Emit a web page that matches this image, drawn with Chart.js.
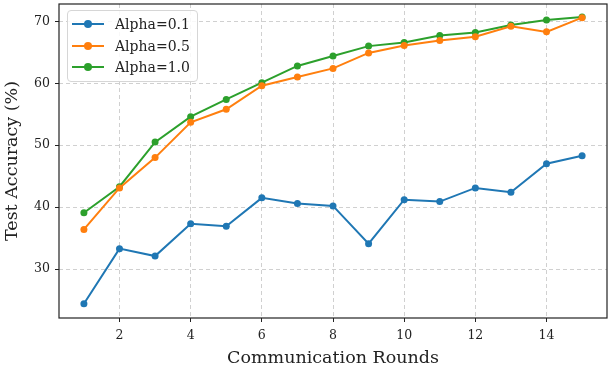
<!DOCTYPE html>
<html>
<head>
<meta charset="utf-8">
<script src="https://cdn.jsdelivr.net/npm/chart.js@4"></script>
<style>
  body { margin: 0; background: #fff; }
  #wrap { position: relative; width: 612px; height: 374px; }
  #legend {
    position: absolute; left: 67px; top: 10px; width: 131px; height: 72px;
    border: 1px solid #d6d6d6; border-radius: 4px; background: rgba(255,255,255,0.85);
    font-family: "DejaVu Serif", serif; font-size: 14px; color: #222;
    box-sizing: border-box;
  }
  .row { position: absolute; left: 0; height: 20px; line-height: 20px; }
  .swatch { position: absolute; left: 4px; top: 9px; width: 32px; height: 2px; }
  .dot { position: absolute; left: 12px; top: -3px; width: 8px; height: 8px; border-radius: 50%; }
  .lbl { position: absolute; left: 47px; top: 0; white-space: nowrap; }
</style>
</head>
<body>
<div id="wrap">
  <canvas id="chart" width="612" height="374"></canvas>
  <div id="legend"></div>
</div>
<script>
const rounds = [1, 2, 3, 4, 5, 6, 7, 8, 9, 10, 11, 12, 13, 14, 15];
const alpha01 = [24.4, 33.3, 32.1, 37.3, 36.9, 41.5, 40.6, 40.2, 34.1, 41.2, 40.9, 43.1, 42.4, 47.0, 48.3];
const alpha05 = [36.4, 43.1, 48.0, 53.7, 55.8, 59.6, 61.0, 62.4, 64.9, 66.1, 66.9, 67.5, 69.2, 68.3, 70.6];
const alpha10 = [39.1, 43.3, 50.5, 54.6, 57.4, 60.1, 62.8, 64.4, 66.0, 66.6, 67.7, 68.2, 69.4, 70.2, 70.7];
const seriesNames = ["Alpha=0.1", "Alpha=0.5", "Alpha=1.0"];
const xTicks = [2, 4, 6, 8, 10, 12, 14];
const yTicks = [30, 40, 50, 60, 70];

const colors = ["#1f77b4", "#ff7f0e", "#2ca02c"];
const serif = "'DejaVu Serif', serif";

function mkSet(label, vals, color) {
  return {
    label: label,
    data: rounds.map((r, i) => ({ x: r, y: vals[i] })),
    borderColor: color,
    backgroundColor: color,
    borderWidth: 2,
    pointRadius: 3.5,
    pointHoverRadius: 3.5,
    pointBorderWidth: 0,
    tension: 0
  };
}

// border round the plot area (matplotlib spines)
const frame = {
  id: "frame",
  afterDraw(chart) {
    const a = chart.chartArea, c = chart.ctx;
    c.save();
    c.strokeStyle = "#222";
    c.lineWidth = 1.2;
    c.strokeRect(a.left, a.top, a.right - a.left, a.bottom - a.top);
    c.restore();
  }
};

const gridOpts = { color: "#d0d0d0", tickColor: "#222", tickBorderDash: [], tickLength: 4, tickWidth: 1 };

const ctx = document.getElementById("chart").getContext("2d");
new Chart(ctx, {
  type: "line",
  data: {
    datasets: [
      mkSet(seriesNames[0], alpha01, colors[0]),
      mkSet(seriesNames[1], alpha05, colors[1]),
      mkSet(seriesNames[2], alpha10, colors[2])
    ]
  },
  options: {
    responsive: false,
    animation: false,
    layout: { padding: { top: 4, right: 5, left: 0, bottom: 0 } },
    plugins: { legend: { display: false }, tooltip: { enabled: false } },
    scales: {
      x: {
        type: "linear",
        min: 0.3,
        max: 15.7,
        afterBuildTicks: s => { s.ticks = xTicks.map(v => ({ value: v })); },
        afterFit: s => { s.height = 56; s.paddingLeft = 0; s.paddingRight = 0; },
        grid: gridOpts,
        border: { display: false, dash: [4, 3] },
        ticks: { color: "#222", font: { family: serif, size: 12.5 }, padding: 6, maxRotation: 0 },
        title: { display: true, text: "Communication Rounds", color: "#222", font: { family: serif, size: 17.5 }, padding: { top: 0, bottom: 5 } }
      },
      y: {
        min: 22.1,
        max: 72.8,
        afterBuildTicks: s => { s.ticks = yTicks.map(v => ({ value: v })); },
        afterFit: s => { s.width = 59; s.paddingTop = 0; s.paddingBottom = 0; },
        grid: gridOpts,
        border: { display: false, dash: [4, 3] },
        ticks: { color: "#222", font: { family: serif, size: 12.5 }, padding: 5 },
        title: { display: true, text: "Test Accuracy (%)", color: "#222", font: { family: serif, size: 17.5 }, padding: { top: 2, bottom: 4 } }
      }
    }
  },
  plugins: [frame]
});

// legend inside the plot, upper left
const leg = document.getElementById("legend");
seriesNames.forEach((name, i) => {
  const row = document.createElement("div");
  row.className = "row";
  row.style.top = (3 + i * 21.7) + "px";
  row.innerHTML = '<div class="swatch" style="background:' + colors[i] + '"><div class="dot" style="background:' + colors[i] + '"></div></div><span class="lbl">' + name + '</span>';
  leg.appendChild(row);
});
</script>
</body>
</html>
